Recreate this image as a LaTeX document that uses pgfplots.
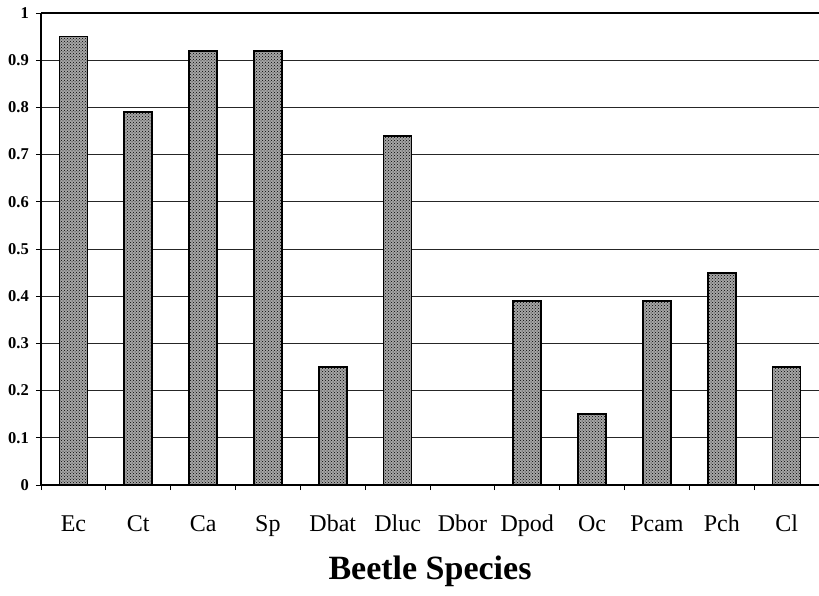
\documentclass[border=0pt]{standalone}
\usepackage{pgfplots}
\pgfplotsset{compat=1.18}
\usepackage{fontspec}
\setmainfont{Liberation Serif}
\usetikzlibrary{patterns}
\begin{document}
\begin{tikzpicture}[x=1pt,y=1pt]
\useasboundingbox (-41,-110) rectangle (778,485);
\begin{axis}[
  at={(0,0)}, anchor=south west,
  width=778pt, height=472pt, scale only axis,
  xmin=-0.5, xmax=11.5, ymin=0, ymax=1,
  axis x line*=bottom, axis y line*=left,
  axis line style={line width=1.6pt, -},
  tick align=outside,
  major tick length=5pt,
  tick style={black, line width=0.8pt},
  xtick={-0.5,0.5,1.5,2.5,3.5,4.5,5.5,6.5,7.5,8.5,9.5,10.5,11.5},
  xticklabels={},
  extra x ticks={0,1,2,3,4,5,6,7,8,9,10,11},
  extra x tick labels={Ec,Ct,Ca,Sp,Dbat,Dluc,Dbor,Dpod,Oc,Pcam,Pch,Cl},
  extra x tick style={major tick length=0pt, grid=none,
    xticklabel style={anchor=base, inner sep=0pt, text height=, text depth=,
      yshift=-46pt, font=\fontsize{24}{24}\selectfont}},
  ytick={0,0.1,0.2,0.3,0.4,0.5,0.6,0.7,0.8,0.9,1},
  /pgf/number format/assume math mode=true,
  /pgf/number format/fixed,
  /pgf/number format/precision=1,
  yticklabel style={anchor=east, inner sep=0pt, xshift=-7pt,
    font=\bfseries\fontsize{16.5}{16.5}\selectfont},
  ymajorgrids,
  major grid style={black!85, line width=0.9pt},
  xlabel={Beetle Species},
  every axis x label/.style={at={(axis description cs:0.5,0)}, anchor=north,
    inner sep=0pt, yshift=-71pt, font=\bfseries\fontsize{34}{34}\selectfont},
  after end axis/.code={\draw[line width=1.6pt] (rel axis cs:0,1) -- (rel axis cs:1,1);},
]
\addplot[ybar, bar width=28pt, draw=black, line width=1.8pt, fill=gray!70,
  postaction={pattern=crosshatch dots, pattern color=black}]
coordinates {
(0,0.95) (1,0.79) (2,0.92) (3,0.92) (4,0.25) (5,0.74)
(6,0) (7,0.39) (8,0.15) (9,0.39) (10,0.45) (11,0.25)
};
\end{axis}
\end{tikzpicture}
\end{document}
